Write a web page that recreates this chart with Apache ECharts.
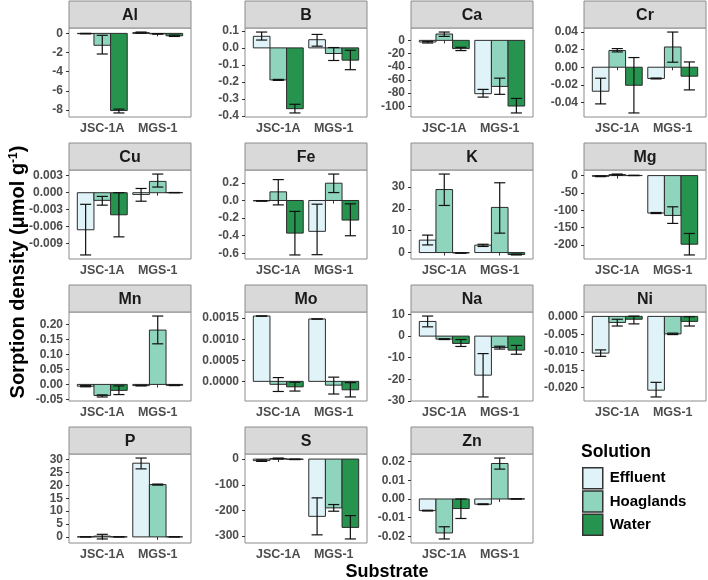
<!DOCTYPE html>
<html>
<head>
<meta charset="utf-8">
<script src="https://cdn.jsdelivr.net/npm/echarts@6/dist/echarts.min.js"></script>
<style>
  html, body { margin: 0; padding: 0; background: #fff; }
  #chart { width: 708px; height: 580px; }
</style>
</head>
<body>
<div id="chart"></div>
<script>
// substrates on x, one bar per solution
var categories = ["JSC-1A", "MGS-1"];
var solutions = ["Effluent", "Hoaglands", "Water"];
var colors = ["#e0f3f8", "#8fd4bd", "#26944f"];
var elements = ["Al", "B", "Ca", "Cr", "Cu", "Fe", "K", "Mg", "Mn", "Mo", "Na", "Ni", "P", "S", "Zn"];

// each row: [JSC E, JSC H, JSC W, MGS E, MGS H, MGS W]
var meanValues = [
    [-0.03, -1.24, -8.05, 0.08, -0.05, -0.25],
    [0.068, -0.188, -0.357, 0.048, -0.033, -0.072],
    [-2.5, 9.6, -12.5, -80.8, -69.8, -99.5],
    [-0.0273, 0.019, -0.0205, -0.0128, 0.023, -0.0102],
    [-0.00655, -0.00135, -0.0039, -0.0003, 0.002, 0.00002],
    [-0.005, 0.098, -0.37, -0.35, 0.196, -0.222],
    [5.7, 28.9, -0.2, 3.4, 20.7, -0.9],
    [-2, 3, 0.5, -108, -115, -198],
    [-0.006, -0.037, -0.02, -0.004, 0.182, -0.003],
    [0.00155, -0.00007, -0.00013, 0.00148, -0.00009, -0.0002],
    [6.8, -1.4, -3.4, -18.1, -5.3, -6.5],
    [-0.0103, -0.0017, -0.0008, -0.0207, -0.0049, -0.0014],
    [0.02, 0.3, 0.02, 28.6, 20.3, 0.02],
    [-6, 2, -1, -223, -190, -266],
    [-0.0062, -0.0181, -0.0051, -0.0028, 0.0189, 0.00005]
];
var errLow = [
    [-0.05, -2.15, -8.3, 0.02, -0.08, -0.32],
    [0.046, -0.191, -0.382, 0.01, -0.074, -0.128],
    [-4, 6, -15.5, -86, -81.8, -110],
    [-0.0417, 0.0174, -0.052, -0.0133, 0.0057, -0.0258],
    [-0.011, -0.0022, -0.0078, -0.0015, 0.001, 0],
    [-0.008, -0.05, -0.618, -0.615, 0.09, -0.4],
    [3.5, 21.6, -0.3, 2.8, 8.9, -1.1],
    [-3, 1.5, 0, -109.5, -138, -229],
    [-0.008, -0.042, -0.034, -0.005, 0.136, -0.004],
    [0.00155, -0.00024, -0.00023, 0.00148, -0.0003, -0.00037],
    [4.3, -1.6, -4.8, -28.2, -6.0, -8.4],
    [-0.0112, -0.0027, -0.0021, -0.0226, -0.0051, -0.0027],
    [0, -0.8, 0, 26.4, 20.1, 0],
    [-9, 0, -2, -295, -203, -311],
    [-0.0064, -0.0213, -0.0104, -0.003, 0.0159, 0]
];
var errHigh = [
    [0, -0.2, -7.9, 0.14, -0.02, -0.18],
    [0.093, -0.185, -0.331, 0.079, 0.002, -0.014],
    [-1.5, 12.6, -10.5, -74.3, -57.3, -88],
    [-0.0125, 0.0212, 0.011, -0.0123, 0.04, 0.006],
    [-0.00205, -0.00065, 0, 0.00075, 0.0033, 0.00004],
    [-0.002, 0.237, -0.124, -0.042, 0.3, -0.038],
    [8.0, 36, -0.1, 3.8, 32, -0.7],
    [-1, 4.5, 1, -106.5, -90, -167],
    [-0.004, -0.035, -0.005, -0.003, 0.229, -0.002],
    [0.00155, 0.00009, -0.00002, 0.00148, 0.0001, -0.00003],
    [9.3, -1.2, -1.6, -8.1, -4.7, -4.3],
    [-0.0094, -0.0008, 0.0001, -0.0185, -0.0047, -0.0001],
    [0.05, 1.0, 0.05, 30.6, 20.5, 0.05],
    [-3, 4, 0, -151, -177, -220],
    [-0.006, -0.0148, 0, -0.0026, 0.0218, 0.0001]
];
var yTickLabels = [
    ["0", "-2", "-4", "-6", "-8"],
    ["0.1", "0.0", "-0.1", "-0.2", "-0.3", "-0.4"],
    ["0", "-20", "-40", "-60", "-80", "-100"],
    ["0.04", "0.02", "0.00", "-0.02", "-0.04"],
    ["0.003", "0.000", "-0.003", "-0.006", "-0.009"],
    ["0.2", "0.0", "-0.2", "-0.4", "-0.6"],
    ["30", "20", "10", "0"],
    ["0", "-50", "-100", "-150", "-200"],
    ["0.20", "0.15", "0.10", "0.05", "0.00", "-0.05"],
    ["0.0015", "0.0010", "0.0005", "0.0000"],
    ["10", "0", "-10", "-20", "-30"],
    ["0.000", "-0.005", "-0.010", "-0.015", "-0.020"],
    ["30", "25", "20", "15", "10", "5", "0"],
    ["0", "-100", "-200", "-300"],
    ["0.02", "0.01", "0.00", "-0.01", "-0.02"]
];

var font = '"Liberation Sans", Arial, sans-serif';
var colLeft = [69, 245, 411, 584];
var stripTop = [1, 143, 285, 427];
var panelW = 122, stripH = 27, plotH = 89;

var chart = echarts.init(document.getElementById("chart"));

function renderBar(params, api) {
    var x = api.value(0), m = api.value(1), lo = api.value(2), hi = api.value(3);
    var a = api.coord([x - 0.15, m]);
    var b = api.coord([x + 0.15, 0]);
    var cap = api.coord([x + 0.1, 0])[0] - api.coord([x, 0])[0];
    var cx = api.coord([x, 0])[0];
    var pLo = api.coord([x, lo])[1];
    var pHi = api.coord([x, hi])[1];
    var lineStyle = { stroke: "#111", lineWidth: 1.2 };
    return {
        type: "group",
        children: [
            {
                type: "rect",
                shape: { x: a[0], y: Math.min(a[1], b[1]), width: b[0] - a[0], height: Math.abs(b[1] - a[1]) },
                style: { fill: colors[params.seriesIndex % 3], stroke: "#2b2b2b", lineWidth: 1 }
            },
            { type: "line", shape: { x1: cx, y1: pLo, x2: cx, y2: pHi }, style: lineStyle },
            { type: "line", shape: { x1: cx - cap, y1: pLo, x2: cx + cap, y2: pLo }, style: lineStyle },
            { type: "line", shape: { x1: cx - cap, y1: pHi, x2: cx + cap, y2: pHi }, style: lineStyle }
        ]
    };
}

var grids = [], xAxes = [], yAxes = [], series = [], graphics = [];

elements.forEach(function (el, i) {
    var r = Math.floor(i / 4), c = i % 4;
    var left = colLeft[c], top = stripTop[r];

    grids.push({
        left: left, top: top + stripH, width: panelW, height: plotH,
        show: true, backgroundColor: "#fff", borderColor: "#8c8c8c", borderWidth: 1
    });

    // ggplot-style 5% expansion of the data range
    var all = meanValues[i].concat(errLow[i], errHigh[i], [0]);
    var lo = Math.min.apply(null, all), hi = Math.max.apply(null, all);
    var pad = (hi - lo) * 0.05;

    var tickVals = yTickLabels[i].map(function (s) { return parseFloat(s); });
    var labelMap = {};
    yTickLabels[i].forEach(function (s) { labelMap[String(parseFloat(s))] = s; });

    xAxes.push({
        type: "value", gridIndex: i, min: 0.4, max: 2.6,
        axisLine: { show: false },
        splitLine: { show: false },
        axisTick: { show: true, customValues: [1, 2], length: 3, lineStyle: { color: "#333" } },
        axisLabel: {
            customValues: [1, 2], margin: 5,
            formatter: function (v) { return categories[Math.round(v) - 1]; },
            color: "#4d4d4d", fontWeight: "bold", fontSize: 12.5, fontFamily: font
        }
    });
    yAxes.push({
        type: "value", gridIndex: i, min: lo - pad, max: hi + pad,
        axisLine: { show: false },
        splitLine: { show: false },
        axisTick: { show: true, customValues: tickVals, length: 3, lineStyle: { color: "#333" } },
        axisLabel: {
            customValues: tickVals, margin: 6,
            formatter: function (v) { var s = labelMap[String(v)]; return s !== undefined ? s : v; },
            color: "#4d4d4d", fontWeight: "bold", fontSize: 12, fontFamily: font
        }
    });

    solutions.forEach(function (sol, s) {
        var data = categories.map(function (cat, k) {
            var idx = k * 3 + s;
            return [k + 1 + (s - 1) * 0.3, meanValues[i][idx], errLow[i][idx], errHigh[i][idx]];
        });
        series.push({
            type: "custom", name: sol, xAxisIndex: i, yAxisIndex: i,
            itemStyle: { color: colors[s] },
            renderItem: renderBar, data: data, silent: true
        });
    });

    graphics.push({
        type: "rect", shape: { x: left, y: top, width: panelW, height: stripH },
        style: { fill: "#d9d9d9", stroke: "#8c8c8c", lineWidth: 1 }
    });
    graphics.push({
        type: "text", x: left + panelW / 2, y: top + stripH / 2 + 1,
        style: { text: el, align: "center", verticalAlign: "middle", fill: "#1a1a1a", font: "bold 16px " + font }
    });
});

graphics.push({
    type: "text", x: 18, y: 272, rotation: Math.PI / 2,
    style: {
        text: "{a|Sorption density (μmol g}{s|-1}{a|)}",
        align: "center", verticalAlign: "middle",
        rich: {
            a: { font: "bold 20px " + font, fill: "#000" },
            s: { font: "bold 12px " + font, fill: "#000", verticalAlign: "top", padding: [0, 0, 8, 0] }
        }
    }
});
graphics.push({
    type: "text", x: 387, y: 572,
    style: { text: "Substrate", align: "center", verticalAlign: "middle", fill: "#000", font: "bold 18px " + font }
});
graphics.push({
    type: "text", x: 581, y: 452,
    style: { text: "Solution", align: "left", verticalAlign: "middle", fill: "#000", font: "bold 17.5px " + font }
});

chart.setOption({
    animation: false,
    grid: grids,
    xAxis: xAxes,
    yAxis: yAxes,
    series: series,
    legend: {
        data: solutions, orient: "vertical", left: 582, top: 467, padding: 0,
        itemWidth: 20, itemHeight: 21, itemGap: 0.7, icon: "rect",
        selectedMode: false,
        itemStyle: { borderColor: "#333", borderWidth: 1.5 },
        textStyle: { fontWeight: "bold", fontSize: 15, fontFamily: font, color: "#000", padding: [0, 0, 0, 2] }
    },
    graphic: graphics
});
</script>
</body>
</html>
